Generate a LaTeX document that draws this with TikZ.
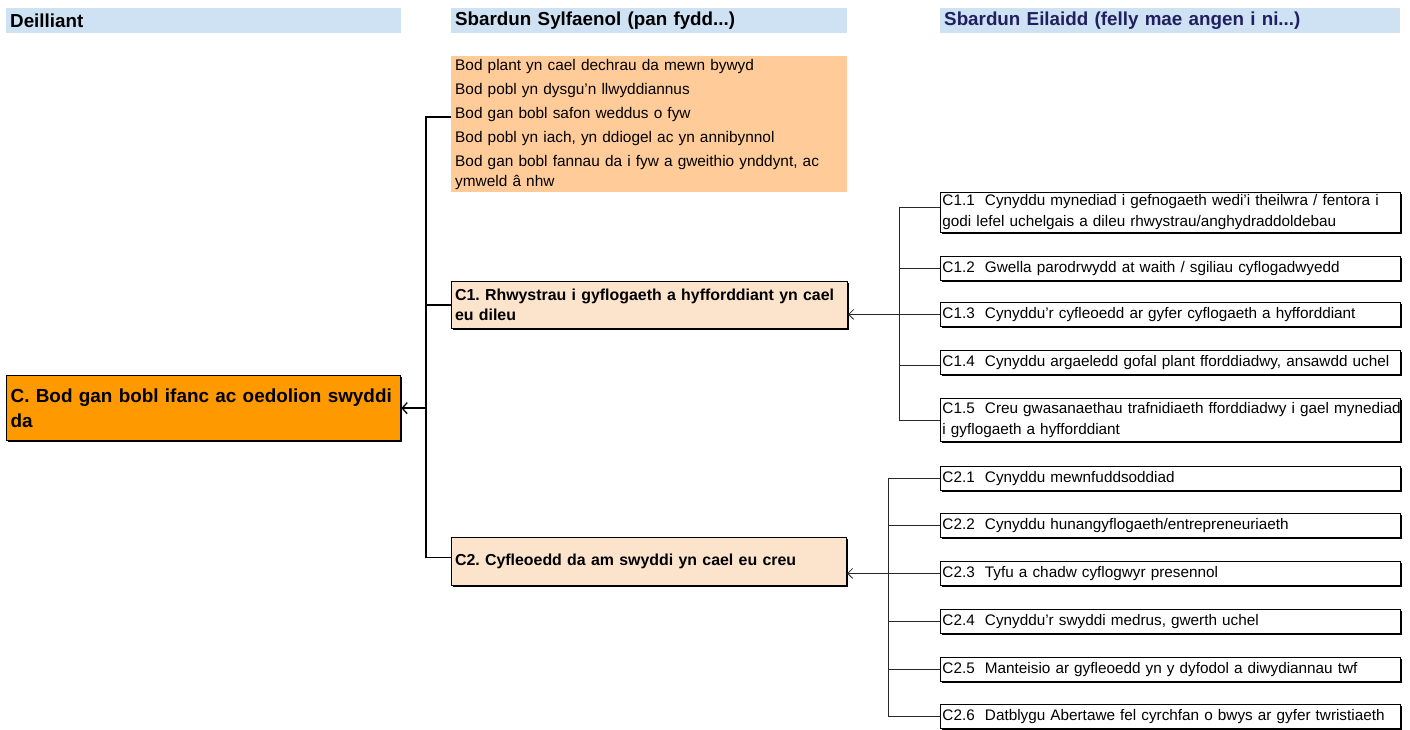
\documentclass[tikz,border=0pt]{standalone}
\usepackage{fontspec}
\setmainfont{Liberation Sans}
\usetikzlibrary{arrows.meta,shadows,calc}
\definecolor{hdrblue}{RGB}{207,226,243}
\definecolor{peach}{RGB}{255,204,153}
\definecolor{lightpeach}{RGB}{252,228,204}
\definecolor{orangeC}{RGB}{255,153,0}
\definecolor{navy}{RGB}{32,32,96}
\definecolor{linegray}{RGB}{40,40,40}
\frenchspacing
\hyphenpenalty=10000
\tikzset{
  hdr/.style={fill=hdrblue, anchor=north west, inner xsep=4pt, inner ysep=0pt,
    minimum height=25pt, align=left, font=\bfseries\fontsize{18.8}{22}\selectfont},
  shadowed/.style={drop shadow={shadow xshift=1.3pt, shadow yshift=-1.3pt, fill=black, opacity=1}},
  rb/.style={draw=black, line width=0.9pt, fill=white, shadowed, anchor=north west,
    inner xsep=2pt, inner ysep=0pt, text width=456pt, minimum height=24pt, align=left,
    font=\fontsize{15.3}{21}\selectfont},
  midbox/.style={draw=black, line width=1.1pt, fill=lightpeach, shadowed, anchor=north west,
    inner xsep=3.5pt, inner ysep=0pt, align=left, font=\bfseries\fontsize{15.9}{20}\selectfont},
  lline/.style={line width=1.8pt, black},
  rline/.style={line width=0.9pt, linegray},
  larrow/.style={-{Straight Barb[length=5pt,width=11pt,line width=1.3pt]}},
  rarrow/.style={-{Straight Barb[length=5pt,width=10pt,line width=0.8pt]}},
}
\begin{document}
\begin{tikzpicture}[x=1pt,y=-1pt]
\useasboundingbox (0,0) rectangle (1410,729);

% headers
\node[hdr, text width=387pt] (h1) at (6,8) {Deilliant};
\node[hdr, text width=388pt] (h2) at (451,8) {Sbardun Sylfaenol (pan fydd...)};
\node[hdr, text width=452pt, text=navy] (h3) at (940,8) {Sbardun Eilaidd (felly mae angen i ni...)};

% foundation list
\node[fill=peach, anchor=north west, inner xsep=4pt, inner ysep=0pt, minimum height=136pt,
  text width=388pt, align=left, font=\fontsize{15.4}{20}\selectfont] (p) at (451,56)
  {Bod plant yn cael dechrau da mewn bywyd\\[4pt]
   Bod pobl yn dysgu’n llwyddiannus\\[4pt]
   Bod gan bobl safon weddus o fyw\\[4pt]
   Bod pobl yn iach, yn ddiogel ac yn annibynnol\\[4pt]
   Bod gan bobl fannau da i fyw a gweithio ynddynt, ac\\ymweld â nhw};

% outcome
\node[draw=black, line width=1.3pt, fill=orangeC, shadowed, anchor=north west, inner xsep=4pt,
  inner ysep=0pt, minimum height=65pt, text width=386pt, align=left,
  font=\bfseries\fontsize{18.9}{25}\selectfont] (c) at (6,375)
  {C. Bod gan bobl ifanc ac oedolion swyddi\\da};

% primary drivers
\node[midbox, minimum height=47pt, text width=389pt] (c1) at (451,281)
  {C1. Rhwystrau i gyflogaeth a hyfforddiant yn cael\\eu dileu};
\node[midbox, minimum height=48pt, text width=388pt] (c2) at (451,537)
  {C2. Cyfleoedd da am swyddi yn cael eu creu};

% secondary drivers C1
\node[rb, minimum height=40pt] (c11) at (940,192)
  {\mbox{C1.1~~Cynyddu mynediad i gefnogaeth wedi’i theilwra / fentora i}\\godi lefel uchelgais a dileu rhwystrau/anghydraddoldebau};
\node[rb] (c12) at (940,256) {C1.2~~Gwella parodrwydd at waith / sgiliau cyflogadwyedd};
\node[rb] (c13) at (940,302) {C1.3~~Cynyddu’r cyfleoedd ar gyfer cyflogaeth a hyfforddiant};
\node[rb] (c14) at (940,350) {C1.4~~Cynyddu argaeledd gofal plant fforddiadwy, ansawdd uchel};
\node[rb, minimum height=43pt] (c15) at (940,398)
  {\mbox{C1.5~~Creu gwasanaethau trafnidiaeth fforddiadwy i gael mynediad}\\i gyflogaeth a hyfforddiant};

% secondary drivers C2
\node[rb] (c21) at (940,466) {C2.1~~Cynyddu mewnfuddsoddiad};
\node[rb] (c22) at (940,513) {C2.2~~Cynyddu hunangyflogaeth/entrepreneuriaeth};
\node[rb] (c23) at (940,561) {C2.3~~Tyfu a chadw cyflogwyr presennol};
\node[rb] (c24) at (940,609) {C2.4~~Cynyddu’r swyddi medrus, gwerth uchel};
\node[rb] (c25) at (940,657) {C2.5~~Manteisio ar gyfleoedd yn y dyfodol a diwydiannau twf};
\node[rb] (c26) at (940,704) {C2.6~~Datblygu Abertawe fel cyrchfan o bwys ar gyfer twristiaeth};

% left connectors
\coordinate (bt) at (426,117);
\draw[lline] (p.west |- bt) -| ([yshift=4pt]c2.west -| bt) -- ([yshift=4pt]c2.west);
\draw[lline] (c1.west) -- (c1.west -| bt);
\draw[lline, larrow] (c.east -| bt) -- (c.east);

% right connectors C1
\coordinate (v1) at (899,0);
\draw[rline] ([yshift=5pt]c11.west) -- ([yshift=5pt]c11.west -| v1) -- (c15.west -| v1) -- (c15.west);
\draw[rline] (c12.west -| v1) -- (c12.west);
\draw[rline] (c13.west -| v1) -- (c13.west);
\draw[rline] ([yshift=-3pt]c14.west -| v1) -- ([yshift=-3pt]c14.west);
\draw[rline, rarrow] (c13.west -| v1) -- (c1.east |- c13.west);

% right connectors C2
\coordinate (v2) at (888,0);
\draw[rline] (c21.west) -- (c21.west -| v2) -- (c26.west -| v2) -- (c26.west);
\draw[rline] (c22.west -| v2) -- (c22.west);
\draw[rline] (c23.west -| v2) -- (c23.west);
\draw[rline] (c24.west -| v2) -- (c24.west);
\draw[rline] (c25.west -| v2) -- (c25.west);
\draw[rline, rarrow] (c23.west -| v2) -- (c2.east |- c23.west);
\end{tikzpicture}
\end{document}
